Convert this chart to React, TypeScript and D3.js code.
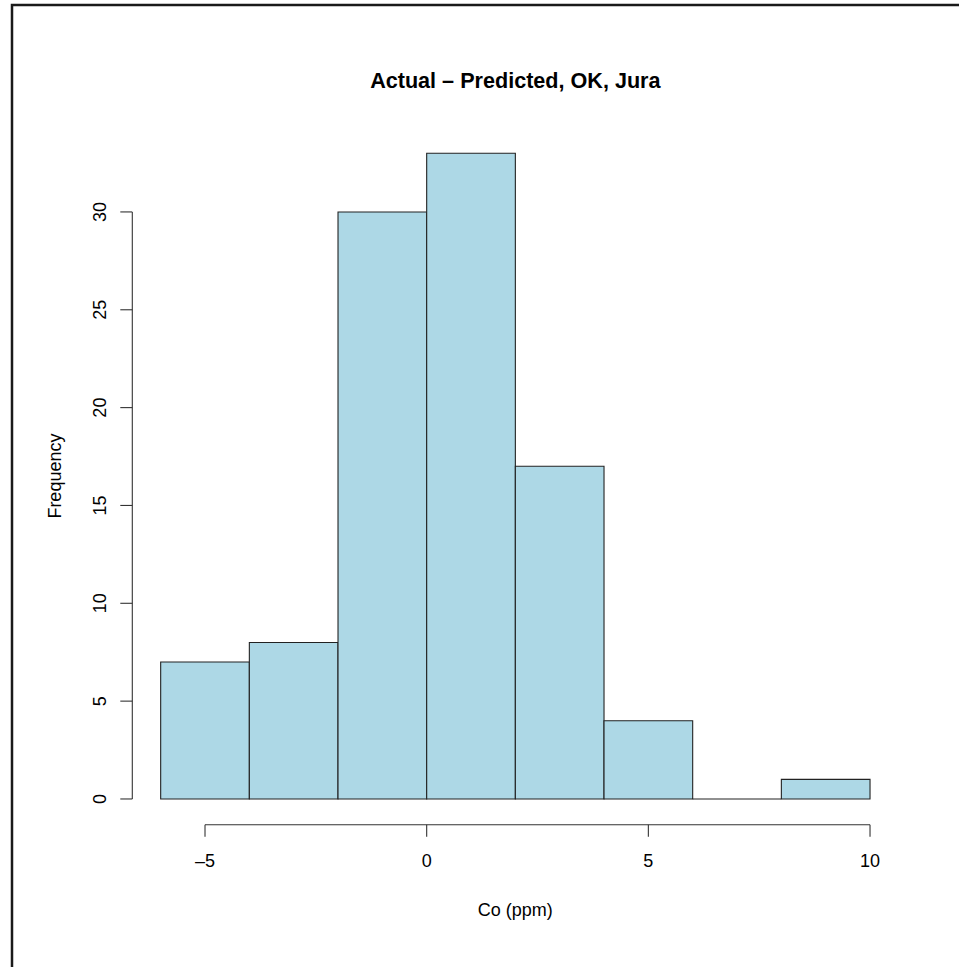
import React from 'react';
import * as d3 from 'd3';

// histogram of residuals (actual - predicted), bins of width 2
const binEdges = [-6, -4, -2, 0, 2, 4, 6, 8, 10];
const counts = [7, 8, 30, 33, 17, 4, 0, 1];
const xTicks = [-5, 0, 5, 10];
const yTicks = [0, 5, 10, 15, 20, 25, 30];

const title = 'Actual \u2013 Predicted, OK, Jura';
const xLabel = 'Co (ppm)';
const yLabel = 'Frequency';

export default function App() {
    const width = 959,
        height = 967,
        font = '"Liberation Sans", Arial, Helvetica, sans-serif',
        axisColor = '#333';

    // R style: pad the data range by 4% on each side
    const xMin = binEdges[0], xMax = binEdges[binEdges.length - 1];
    const xPad = (xMax - xMin) * 0.04;
    const yMax = d3.max(counts) as number;
    const yPad = yMax * 0.04;

    const x = d3.scaleLinear().domain([xMin - xPad, xMax + xPad]).range([132.3, 898.4]);
    const y = d3.scaleLinear().domain([-yPad, yMax + yPad]).range([824.8, 127.4]);

    const plotCenter = (x.range()[0] + x.range()[1]) / 2;
    const xAxisY = y.range()[0];
    const yAxisX = x.range()[0];

    const bars = counts.map((c, i) => ({ x0: binEdges[i], x1: binEdges[i + 1], count: c }));

    // closed path so that empty bins still show as a flat line at 0
    const barPath = (b: { x0: number, x1: number, count: number }) => {
        const p = d3.path();
        p.moveTo(x(b.x0), y(0));
        p.lineTo(x(b.x0), y(b.count));
        p.lineTo(x(b.x1), y(b.count));
        p.lineTo(x(b.x1), y(0));
        p.closePath();
        return p.toString();
    };

    return (
        <svg width={width} height={height}
             style={{ position: 'absolute', left: 0, top: 0, background: '#fff' }}
             fontFamily={font}>
            {/* outer frame, cut off at right and bottom */}
            <rect x={12} y={5} width={width + 20} height={height + 20}
                  fill="none" stroke="#1a1a1a" strokeWidth={2.5}/>

            <text x={plotCenter} y={88} textAnchor="middle" fontSize={21.6} fontWeight="bold">
                {title}
            </text>

            {bars.map((b, i) => (
                <path key={i} d={barPath(b)}
                      fill="#ADD8E6"
                      stroke="#222"
                      strokeWidth={1.1}/>
            ))}

            {/* x axis */}
            <g stroke={axisColor} strokeWidth={1.1} fill="none">
                <line x1={x(xTicks[0])} x2={x(xTicks[xTicks.length - 1])} y1={xAxisY} y2={xAxisY}/>
                {xTicks.map(t => (
                    <line key={t} x1={x(t)} x2={x(t)} y1={xAxisY} y2={xAxisY + 12}/>
                ))}
            </g>
            {xTicks.map(t => (
                <text key={t} x={x(t)} y={867} textAnchor="middle" fontSize={18}>
                    {t < 0 ? '\u2013' + Math.abs(t) : t}
                </text>
            ))}
            <text x={plotCenter} y={916} textAnchor="middle" fontSize={18}>{xLabel}</text>

            {/* y axis */}
            <g stroke={axisColor} strokeWidth={1.1} fill="none">
                <line x1={yAxisX} x2={yAxisX} y1={y(yTicks[0])} y2={y(yTicks[yTicks.length - 1])}/>
                {yTicks.map(t => (
                    <line key={t} x1={yAxisX - 12} x2={yAxisX} y1={y(t)} y2={y(t)}/>
                ))}
            </g>
            {yTicks.map(t => (
                <text key={t} transform={`translate(106,${y(t)}) rotate(-90)`}
                      textAnchor="middle" fontSize={18}>
                    {t}
                </text>
            ))}
            <text transform={`translate(61,${(y.range()[0] + y.range()[1]) / 2}) rotate(-90)`}
                  textAnchor="middle" fontSize={18}>
                {yLabel}
            </text>
        </svg>
    );
}
